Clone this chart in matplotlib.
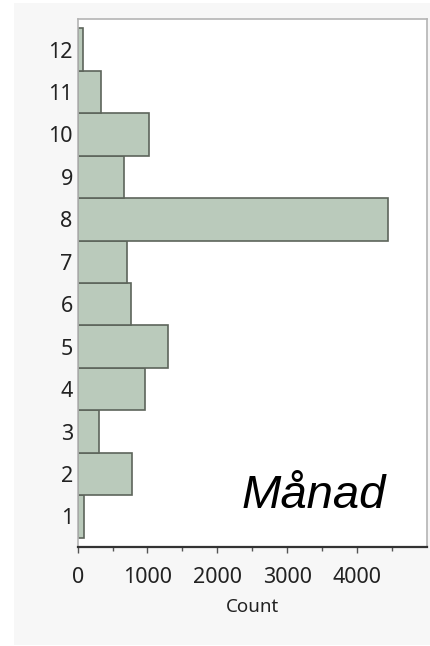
import matplotlib
matplotlib.use("Agg")
import matplotlib.pyplot as plt
from matplotlib.patches import Rectangle
from matplotlib.ticker import FixedLocator

months = [1, 2, 3, 4, 5, 6, 7, 8, 9, 10, 11, 12]
counts = [86, 775, 301, 961, 1291, 769, 712, 4440, 660, 1018, 330, 80]
xticks = [0, 1000, 2000, 3000, 4000]
xminor = [500, 1500, 2500, 3500, 4500]
xlabel = "Count"
title = "Månad"

plt.rcParams['font.family'] = ['Noto Sans', 'DejaVu Sans']

fig = plt.figure(figsize=(4.31, 6.46), dpi=100)
fig.patch.set_facecolor('white')
fig.patches.append(Rectangle((14 / 431, 1 - 645 / 646), (431 - 14) / 431, (645 - 3) / 646,
                             transform=fig.transFigure, facecolor='#f7f7f7',
                             edgecolor='none', zorder=-10))

ax = fig.add_axes([77.7 / 431, 1 - 546.7 / 646, (426.7 - 77.7) / 431, (546.7 - 19) / 646])
ax.set_zorder(5)
ax.set_facecolor('white')
ax.barh(months, counts, height=1.0, color='#bacabb', edgecolor='#5d655b', linewidth=1.2, zorder=2)

ax.set_xlim(0, 5000)
ax.set_ylim(0.288, 12.72)
ax.set_xticks(xticks)
ax.xaxis.set_minor_locator(FixedLocator(xminor))
ax.set_yticks(months)
ax.set_yticklabels([str(m) for m in months])
ax.tick_params(axis='y', length=0, pad=3.5, labelsize=15.5, labelcolor='#222222')
ax.tick_params(axis='x', which='major', length=4.5, width=1, color='#555555', pad=10,
               labelsize=15.5, labelcolor='#222222')
ax.tick_params(axis='x', which='minor', length=3, width=1, color='#555555')
ax.set_xlabel(xlabel, fontsize=13.5, color='#222222', labelpad=7)

for s in ['left', 'top', 'right']:
    ax.spines[s].set_color('#b4b4b4')
    ax.spines[s].set_linewidth(1.2)
ax.spines['bottom'].set_color('#333333')
ax.spines['bottom'].set_linewidth(1.6)

ax.text(0.677, 0.097, title, transform=ax.transAxes, ha='center', va='center',
        fontsize=34, fontstyle='italic', family='Liberation Sans', color='black')

fig.savefig('out.png', dpi=100, facecolor='white')
